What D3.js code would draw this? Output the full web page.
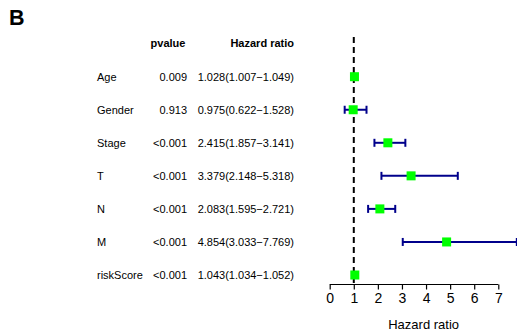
<!DOCTYPE html>
<html>
<head>
<meta charset="utf-8">
<script src="https://cdn.jsdelivr.net/npm/d3@7"></script>
<style>
  html, body { margin: 0; padding: 0; background: #fff; }
  svg { display: block; font-family: "Liberation Sans", Arial, sans-serif; }
</style>
</head>
<body>
<svg id="chart" width="517" height="335"></svg>
<script>
// Multivariate Cox regression results
const variables = ["Age", "Gender", "Stage", "T", "N", "M", "riskScore"];
const pvalues   = ["0.009", "0.913", "<0.001", "<0.001", "<0.001", "<0.001", "<0.001"];
const hr        = [1.028, 0.975, 2.415, 3.379, 2.083, 4.854, 1.043];
const hrLow     = [1.007, 0.622, 1.857, 2.148, 1.595, 3.033, 1.034];
const hrHigh    = [1.049, 1.528, 3.141, 5.318, 2.721, 7.769, 1.052];
const xTicks    = [0, 1, 2, 3, 4, 5, 6, 7];

const svg = d3.select("#chart");

const x = d3.scaleLinear().domain([0, 7]).range([329.7, 498.3]);
const y = d3.scaleLinear().domain([0, variables.length - 1]).range([76.7, 275]);
const axisY = 284.5;

// Panel letter
svg.append("text").attr("x", 9).attr("y", 24.5)
  .attr("font-size", 21.5).attr("font-weight", "bold").text("B");

// Column headers
svg.append("text").attr("x", 168).attr("y", 47).attr("text-anchor", "middle")
  .attr("font-size", 11).attr("font-weight", "bold").text("pvalue");
svg.append("text").attr("x", 294).attr("y", 47).attr("text-anchor", "end")
  .attr("font-size", 11).attr("font-weight", "bold").text("Hazard ratio");

// Table rows
const rows = svg.append("g").selectAll("g").data(variables).join("g")
  .attr("transform", (d, i) => `translate(0,${y(i)})`);
rows.append("text").attr("x", 97).attr("dy", "0.35em").attr("font-size", 11)
  .text(d => d);
rows.append("text").attr("x", 187).attr("dy", "0.35em").attr("text-anchor", "end")
  .attr("font-size", 11).text((d, i) => pvalues[i]);
rows.append("text").attr("x", 294).attr("dy", "0.35em").attr("text-anchor", "end")
  .attr("font-size", 11)
  .text((d, i) => `${hr[i].toFixed(3)}(${hrLow[i].toFixed(3)}\u2212${hrHigh[i].toFixed(3)})`);

// Reference line at HR = 1
svg.append("line")
  .attr("x1", x(1)).attr("x2", x(1)).attr("y1", 37).attr("y2", axisY)
  .attr("stroke", "#000").attr("stroke-width", 2).attr("stroke-dasharray", "6,4");

// Confidence intervals
const ci = svg.append("g").attr("stroke", "#00008B").attr("stroke-width", 2).attr("fill", "none");
variables.forEach((v, i) => {
  const yy = y(i);
  if (x(hrHigh[i]) - x(hrLow[i]) > 3) {
    ci.append("line").attr("x1", x(hrLow[i])).attr("x2", x(hrHigh[i])).attr("y1", yy).attr("y2", yy);
    ci.append("line").attr("x1", x(hrLow[i])).attr("x2", x(hrLow[i])).attr("y1", yy - 4).attr("y2", yy + 4);
    ci.append("line").attr("x1", x(hrHigh[i])).attr("x2", x(hrHigh[i])).attr("y1", yy - 4).attr("y2", yy + 4);
  }
});

// Point estimates
svg.append("g").selectAll("rect").data(hr).join("rect")
  .attr("x", d => x(d) - 4.5).attr("y", (d, i) => y(i) - 4.5)
  .attr("width", 9).attr("height", 9).attr("fill", "#00FF00");

// X axis
const axis = d3.axisBottom(x).tickValues(xTicks).tickFormat(d3.format("d"))
  .tickSize(5).tickPadding(4).tickSizeOuter(0);
const gx = svg.append("g").attr("transform", `translate(0,${axisY})`).call(axis);
gx.select(".domain").attr("stroke", "#000").attr("stroke-width", 1.2)
  .attr("d", `M${x(0)},0H${x(7)}`);
gx.selectAll(".tick line").attr("stroke", "#000").attr("stroke-width", 1.2);
gx.selectAll(".tick text").attr("font-size", 14).attr("fill", "#000")
  .attr("font-family", "Liberation Sans, Arial, sans-serif");

svg.append("text").attr("x", x(3.9)).attr("y", 329).attr("text-anchor", "middle")
  .attr("font-size", 13).text("Hazard ratio");
</script>
</body>
</html>
